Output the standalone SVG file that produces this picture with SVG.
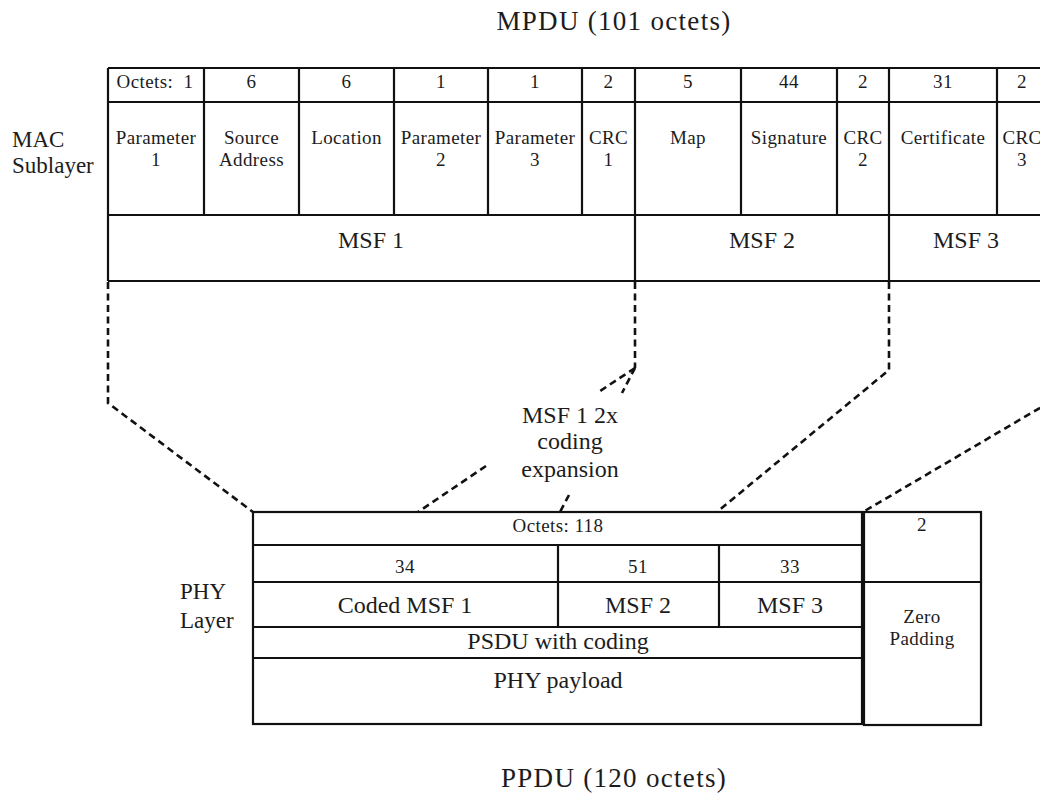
<svg xmlns="http://www.w3.org/2000/svg" width="1040" height="797" viewBox="0 0 1040 797">
<style>
text{font-family:"Liberation Serif","Times New Roman",serif;fill:#1c1c1c;text-anchor:middle}
.t{font-size:27px;letter-spacing:1.3px}
.big{font-size:24px}
.lab{font-size:23px;text-anchor:start}
.sm{font-size:19px;letter-spacing:0.4px}
.box{fill:none;stroke:#111;stroke-width:2.2}
.ln{stroke:#111;stroke-width:2.2;fill:none}
.dash{stroke:#111;stroke-width:2.6;fill:none;stroke-dasharray:7 4.5}
</style>
<rect width="1040" height="797" fill="#fff"/>

<g id="mpdu-title"><text class="t" x="614" y="30">MPDU (101 octets)</text></g>

<g id="mac-label">
<text class="lab" x="12" y="147">MAC</text>
<text class="lab" x="12" y="173">Sublayer</text>
</g>

<g id="mac-table">
<path class="ln" d="M108,68H1045M108,102H1045M108,215H1045M108,281H1045M108,68V281"/>
<path class="ln" d="M204,68V215M299,68V215M394,68V215M488,68V215M582,68V215M635,68V281M741,68V215M837,68V215M889,68V281M997,68V215"/>
<g id="f-param1"><text class="sm" x="155" y="88">Octets:&#160; 1</text><text class="sm" x="156" y="144">Parameter</text><text class="sm" x="156" y="166">1</text></g>
<g id="f-source"><text class="sm" x="251.5" y="88">6</text><text class="sm" x="251.5" y="144">Source</text><text class="sm" x="251.5" y="166">Address</text></g>
<g id="f-location"><text class="sm" x="346.5" y="88">6</text><text class="sm" x="346.5" y="144">Location</text></g>
<g id="f-param2"><text class="sm" x="441" y="88">1</text><text class="sm" x="441" y="144">Parameter</text><text class="sm" x="441" y="166">2</text></g>
<g id="f-param3"><text class="sm" x="535" y="88">1</text><text class="sm" x="535" y="144">Parameter</text><text class="sm" x="535" y="166">3</text></g>
<g id="f-crc1"><text class="sm" x="608.5" y="88">2</text><text class="sm" x="608.5" y="144">CRC</text><text class="sm" x="608.5" y="166">1</text></g>
<g id="f-map"><text class="sm" x="688" y="88">5</text><text class="sm" x="688" y="144">Map</text></g>
<g id="f-signature"><text class="sm" x="789" y="88">44</text><text class="sm" x="789" y="144">Signature</text></g>
<g id="f-crc2"><text class="sm" x="863" y="88">2</text><text class="sm" x="863" y="144">CRC</text><text class="sm" x="863" y="166">2</text></g>
<g id="f-cert"><text class="sm" x="943" y="88">31</text><text class="sm" x="943" y="144">Certificate</text></g>
<g id="f-crc3"><text class="sm" x="1022" y="88">2</text><text class="sm" x="1022" y="144">CRC</text><text class="sm" x="1022" y="166">3</text></g>
<g id="msf1"><text class="big" x="371" y="248">MSF 1</text></g>
<g id="msf2"><text class="big" x="762" y="248">MSF 2</text></g>
<g id="msf3"><text class="big" x="966" y="248">MSF 3</text></g>
</g>

<g id="coding-note">
<text class="big" x="570" y="423">MSF 1 2x</text>
<text class="big" x="570" y="449">coding</text>
<text class="big" x="570" y="477">expansion</text>
</g>

<g id="connectors">
<path class="dash" d="M108,282V403L253,512"/>
<path class="dash" d="M635,282V368"/>
<path class="dash" d="M635,368L597,393"/>
<path class="dash" d="M486,466L418,512"/>
<path class="dash" d="M635,368L622,393"/>
<path class="dash" d="M569,495L560,512"/>
<path class="dash" d="M889,282V370L717,512"/>
<path class="dash" d="M1050,402L863,512"/>
</g>

<g id="phy-label">
<text class="lab" x="180" y="599">PHY</text>
<text class="lab" x="180" y="628">Layer</text>
</g>

<g id="phy-table">
<rect class="box" x="253" y="512" width="609" height="212"/>
<path class="ln" d="M253,545H862M253,582H862M253,627H862M253,658H862M558,545V627M719,545V627"/>
<text class="sm" x="558" y="532">Octets: 118</text>
<text class="sm" x="405" y="573">34</text>
<text class="sm" x="638" y="573">51</text>
<text class="sm" x="790" y="573">33</text>
<text class="big" x="405" y="613">Coded MSF 1</text>
<text class="big" x="638" y="613">MSF 2</text>
<text class="big" x="790" y="613">MSF 3</text>
<text class="big" x="558" y="649">PSDU with coding</text>
<text class="big" x="558" y="688">PHY payload</text>
</g>

<g id="zero-padding">
<rect class="box" x="864" y="512" width="117" height="213"/>
<path class="ln" d="M864,582H981"/>
<text class="sm" x="922" y="531">2</text>
<text class="sm" x="922" y="623">Zero</text>
<text class="sm" x="922" y="645">Padding</text>
</g>

<g id="ppdu-title"><text class="t" x="614" y="787">PPDU (120 octets)</text></g>
</svg>
